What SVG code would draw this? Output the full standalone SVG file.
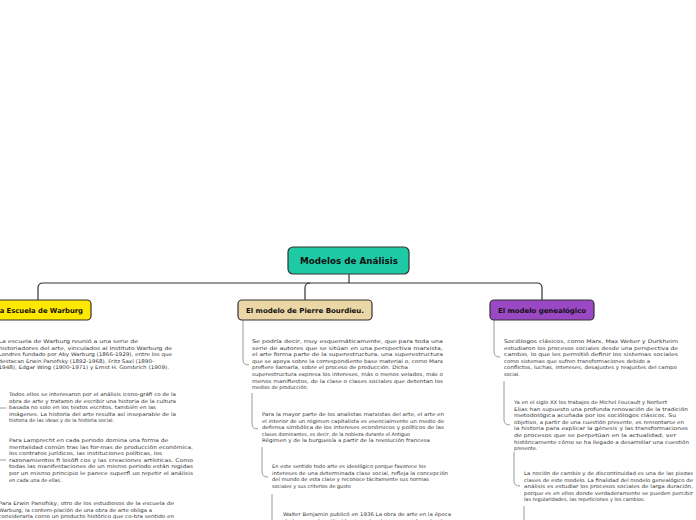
<svg xmlns="http://www.w3.org/2000/svg" width="696" height="520" viewBox="0 0 696 520">
<style>
.t{font-family:"DejaVu Sans",Verdana,sans-serif;font-size:4.95px;fill:#333}
.h{font-family:"DejaVu Sans",Verdana,sans-serif;font-weight:bold;fill:#111}
.box{stroke:#333;stroke-width:1.2}
.main{fill:none;stroke:#333;stroke-width:1.2}
.sub{fill:none;stroke:#9a9a9a;stroke-width:1}
</style>
<rect width="696" height="520" fill="#ffffff"/>
<g id="connectors">
<path class="main" d="M349,274 V283"/>
<path class="main" d="M38,300 V288 Q38,283 43,283 H537 Q542,283 542,288 V300"/>
<path class="main" d="M305,300 V288 Q305,283 310,283"/>
<path class="sub" d="M243,320 V360 Q243,365 249,365"/>
<path class="sub" d="M252,393 V424 Q252,429 258,429"/>
<path class="sub" d="M262,447 V472 Q262,477 268,477"/>
<path class="sub" d="M272,494 V522"/>
<path class="sub" d="M494,320 V352 Q494,357 500,357"/>
<path class="sub" d="M504,381 V420 Q504,425 510,425"/>
<path class="sub" d="M514,452 V481 Q514,486 520,486"/>
<path class="sub" d="M524,506 V522"/>
<path class="sub" d="M-2,408 H6"/>
<path class="sub" d="M-2,460 H6"/>
</g>
<g id="root">
<rect class="box" x="288" y="247" width="121" height="27" rx="5" fill="#1ec9a5"/>
<text class="h" x="349" y="264" font-size="8.2" text-anchor="middle" textLength="98" lengthAdjust="spacingAndGlyphs">Modelos de Análisis</text>
</g>
<g id="warburg">
<rect class="box" x="-16" y="300" width="107" height="20" rx="4" fill="#ffe800"/>
<text class="h" x="83" y="312.5" font-size="6.8" text-anchor="end">La Escuela de Warburg</text>
</g>
<g id="bourdieu">
<rect class="box" x="238" y="300" width="134" height="20" rx="4" fill="#ebd6a6"/>
<text class="h" x="305" y="312.5" font-size="6.8" text-anchor="middle" textLength="118" lengthAdjust="spacingAndGlyphs">El modelo de Pierre Bourdieu.</text>
</g>
<g id="genealogico">
<rect class="box" x="490" y="300" width="104" height="20" rx="4" fill="#9a48c4"/>
<text class="h" x="542" y="312.5" font-size="6.8" text-anchor="middle" textLength="88" lengthAdjust="spacingAndGlyphs">El modelo genealógico</text>
</g>
<g id="warburg-1" class="t">
<text x="-1.5" y="343" textLength="139.5" lengthAdjust="spacingAndGlyphs">La escuela de Warburg reunió a una serie de</text>
<text x="-1.5" y="349.6" textLength="173.5" lengthAdjust="spacingAndGlyphs">historiadores del arte, vinculados al Instituto Warburg de</text>
<text x="-1.5" y="356.2" textLength="173.5" lengthAdjust="spacingAndGlyphs">Londres fundado por Aby Warburg (1866-1929), entre los que</text>
<text x="-1.5" y="362.8" textLength="155.5" lengthAdjust="spacingAndGlyphs">destacan Erwin Panofsky (1892-1968), Fritz Saxl (1890-</text>
<text x="-1.5" y="369.4" textLength="170.5" lengthAdjust="spacingAndGlyphs">1948), Edgar Wing (1900-1971) y Ernst H. Gombrich (1909).</text>
</g>
<g id="warburg-2" class="t">
<text x="9" y="396" textLength="167" lengthAdjust="spacingAndGlyphs">Todos ellos se interesaron por el análisis icono-gráfi co de la</text>
<text x="9" y="402.6" textLength="167" lengthAdjust="spacingAndGlyphs">obra de arte y trataron de escribir una historia de la cultura</text>
<text x="9" y="409.2" textLength="147" lengthAdjust="spacingAndGlyphs">basada no solo en los textos escritos, también en las</text>
<text x="9" y="415.8" textLength="167" lengthAdjust="spacingAndGlyphs">imágenes. La historia del arte resulta así inseparable de la</text>
<text x="9" y="422.4">historia de las ideas y de la historia social.</text>
</g>
<g id="warburg-3" class="t">
<text x="9" y="442" textLength="159" lengthAdjust="spacingAndGlyphs">Para Lamprecht en cada periodo domina una forma de</text>
<text x="9" y="448.6" textLength="184" lengthAdjust="spacingAndGlyphs">mentalidad común tras las for-mas de producción económica,</text>
<text x="9" y="455.2" textLength="153" lengthAdjust="spacingAndGlyphs">los contratos jurídicos, las instituciones políticas, los</text>
<text x="9" y="461.8" textLength="184" lengthAdjust="spacingAndGlyphs">razonamientos fi losófi cos y las creaciones artísticas. Como</text>
<text x="9" y="468.4" textLength="184" lengthAdjust="spacingAndGlyphs">todas las manifestaciones de un mismo periodo están regidas</text>
<text x="9" y="475" textLength="184" lengthAdjust="spacingAndGlyphs">por un mismo principio le parece superfl uo repetir el análisis</text>
<text x="9" y="481.6">en cada una de ellas.</text>
</g>
<g id="warburg-4" class="t">
<text x="-1.5" y="505" textLength="175.5" lengthAdjust="spacingAndGlyphs">Para Erwin Panofsky, otro de los estudiosos de la escuela de</text>
<text x="-1.5" y="511.6" textLength="153.5" lengthAdjust="spacingAndGlyphs">Warburg, la contem-plación de una obra de arte obliga a</text>
<text x="-1.5" y="518.2" textLength="175.5" lengthAdjust="spacingAndGlyphs">considerarla como un producto histórico que co-bra sentido en</text>
</g>
<g id="bourdieu-1" class="t">
<text x="252" y="343" textLength="191" lengthAdjust="spacingAndGlyphs">Se podría decir, muy esquemáticamente, que para toda una</text>
<text x="252" y="349.6" textLength="191" lengthAdjust="spacingAndGlyphs">serie de autores que se sitúan en una perspectiva marxista,</text>
<text x="252" y="356.2" textLength="191" lengthAdjust="spacingAndGlyphs">el arte forma parte de la superestructura, una superestructura</text>
<text x="252" y="362.8" textLength="191" lengthAdjust="spacingAndGlyphs">que se apoya sobre la correspondiente base material o, como Marx</text>
<text x="252" y="369.4" textLength="156" lengthAdjust="spacingAndGlyphs">prefiere llamarla, sobre el proceso de producción. Dicha</text>
<text x="252" y="376" textLength="191" lengthAdjust="spacingAndGlyphs">superestructura expresa los intereses, más o menos velados, más o</text>
<text x="252" y="382.6" textLength="191" lengthAdjust="spacingAndGlyphs">menos manifiestos, de la clase o clases sociales que detentan los</text>
<text x="252" y="389.2">medios de producción.</text>
</g>
<g id="bourdieu-2" class="t">
<text x="262" y="416" textLength="182" lengthAdjust="spacingAndGlyphs">Para la mayor parte de los analistas marxistas del arte, el arte en</text>
<text x="262" y="422.6" textLength="182" lengthAdjust="spacingAndGlyphs">el interior de un régimen capitalista es esencialmente un medio de</text>
<text x="262" y="429.2" textLength="182" lengthAdjust="spacingAndGlyphs">defensa simbólica de los intereses económicos y políticos de las</text>
<text x="262" y="435.8" textLength="148" lengthAdjust="spacingAndGlyphs">clases dominantes, es decir, de la nobleza durante el Antiguo</text>
<text x="262" y="442.4" textLength="168" lengthAdjust="spacingAndGlyphs">Régimen y de la burguesía a partir de la revolución francesa</text>
</g>
<g id="bourdieu-3" class="t">
<text x="272" y="468" textLength="154" lengthAdjust="spacingAndGlyphs">En este sentido todo arte es ideológico porque favorece los</text>
<text x="272" y="474.6" textLength="176" lengthAdjust="spacingAndGlyphs">intereses de una determinada clase social, refleja la concepción</text>
<text x="272" y="481.2" textLength="157" lengthAdjust="spacingAndGlyphs">del mundo de esta clase y reconoce tácitamente sus normas</text>
<text x="272" y="487.8">sociales y sus criterios de gusto</text>
</g>
<g id="bourdieu-4" class="t">
<text x="283" y="516" textLength="168" lengthAdjust="spacingAndGlyphs">Walter Benjamin publicó en 1936 La obra de arte en la época</text>
<text x="283" y="522.6" textLength="168" lengthAdjust="spacingAndGlyphs">de la reproducción técnica, donde expuso cómo la obra</text>
</g>
<g id="genealogico-1" class="t">
<text x="504" y="343" textLength="174" lengthAdjust="spacingAndGlyphs">Sociólogos clásicos, como Marx, Max Weber y Durkheim</text>
<text x="504" y="349.6" textLength="174" lengthAdjust="spacingAndGlyphs">estudiaron los procesos sociales desde una perspectiva de</text>
<text x="504" y="356.2" textLength="174" lengthAdjust="spacingAndGlyphs">cambio, lo que les permitió definir los sistemas sociales</text>
<text x="504" y="362.8" textLength="146" lengthAdjust="spacingAndGlyphs">como sistemas que sufren transformaciones debido a</text>
<text x="504" y="369.4" textLength="173" lengthAdjust="spacingAndGlyphs">conflictos, luchas, intereses, desajustes y reajustes del campo</text>
<text x="504" y="376">social.</text>
</g>
<g id="genealogico-2" class="t">
<text x="514" y="404" textLength="153" lengthAdjust="spacingAndGlyphs">Ya en el siglo XX los trabajos de Michel Foucault y Norbert</text>
<text x="514" y="410.6" textLength="174" lengthAdjust="spacingAndGlyphs">Elias han supuesto una profunda renovación de la tradición</text>
<text x="514" y="417.2" textLength="162" lengthAdjust="spacingAndGlyphs">metodológica acuñada por los sociólogos clásicos. Su</text>
<text x="514" y="423.8" textLength="170" lengthAdjust="spacingAndGlyphs">objetivo, a partir de una cuestión presente, es remontarse en</text>
<text x="514" y="430.4" textLength="174" lengthAdjust="spacingAndGlyphs">la historia para explicar la génesis y las transformaciones</text>
<text x="514" y="437" textLength="162" lengthAdjust="spacingAndGlyphs">de procesos que se perpetúan en la actualidad, ver</text>
<text x="514" y="443.6" textLength="175" lengthAdjust="spacingAndGlyphs">históricamente cómo se ha llegado a desarrollar una cuestión</text>
<text x="514" y="450.2">presente.</text>
</g>
<g id="genealogico-3" class="t">
<text x="524" y="475" textLength="169" lengthAdjust="spacingAndGlyphs">La noción de cambio y de discontinuidad es una de las piezas</text>
<text x="524" y="481.6" textLength="169" lengthAdjust="spacingAndGlyphs">claves de este modelo. La finalidad del modelo genealógico de</text>
<text x="524" y="488.2" textLength="169" lengthAdjust="spacingAndGlyphs">análisis es estudiar los procesos sociales de larga duración,</text>
<text x="524" y="494.8" textLength="169" lengthAdjust="spacingAndGlyphs">porque es en ellos donde verdaderamente se pueden percibir</text>
<text x="524" y="501.4">las regularidades, las repeticiones y los cambios.</text>
</g>
</svg>
